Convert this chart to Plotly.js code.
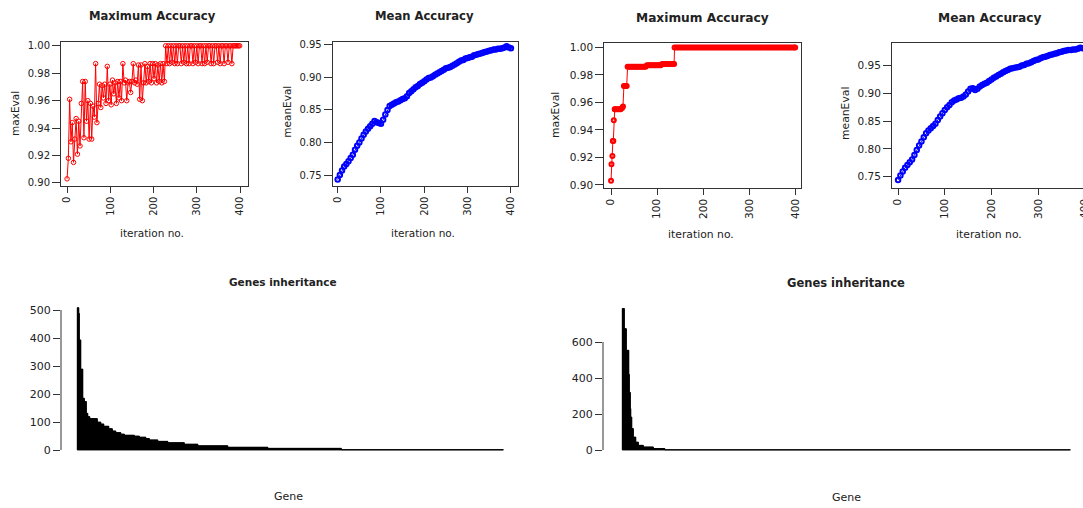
<!DOCTYPE html>
<html><head><meta charset="utf-8">
<script src="https://cdn.plot.ly/plotly-3.0.1.min.js"></script>
<style>html,body{margin:0;padding:0;overflow:hidden;background:#fff}#chart{width:1100px;height:508px}</style>
</head><body><div id="chart"></div><script>
// ---------- data ----------
const iterA = [0,3,6,9,12,15,18,21,24,27,30,33,36,39,42,45,48,51,54,57,60,63,66,69,72,75,78,81,84,87,90,93,96,99,102,105,108,111,114,117,120,123,126,129,132,135,138,141,144,147,150,153,156,159,162,165,168,171,174,177,180,183,186,189,192,195,198,201,204,207,210,213,216,219,222,225,228,231,234,237,240,243,246,249,252,255,258,261,264,267,270,273,276,279,282,285,288,291,294,297,300,303,306,309,312,315,318,321,324,327,330,333,336,339,342,345,348,351,354,357,360,363,366,369,372,375,378,381,384,387,390,393,396,399];
const maxEvalA = [0.903,0.918,0.961,0.930,0.944,0.915,0.932,0.947,0.921,0.945,0.927,0.958,0.974,0.933,0.974,0.945,0.960,0.932,0.958,0.932,0.956,0.948,0.987,0.944,0.958,0.972,0.955,0.971,0.962,0.972,0.958,0.985,0.960,0.972,0.957,0.975,0.965,0.973,0.958,0.974,0.962,0.974,0.960,0.987,0.973,0.975,0.960,0.973,0.974,0.966,0.974,0.987,0.973,0.975,0.972,0.986,0.961,0.986,0.960,0.973,0.987,0.973,0.985,0.974,0.987,0.973,0.987,0.976,0.987,0.973,0.986,0.974,0.987,0.973,0.987,0.974,
1.000,0.987,1.000,0.987,1.000,0.988,1.000,0.987,1.000,0.987,1.000,1.000,0.987,1.000,0.988,1.000,0.987,1.000,0.987,1.000,1.000,0.987,1.000,0.988,1.000,0.987,1.000,1.000,0.987,1.000,0.987,1.000,0.988,1.000,1.000,0.987,1.000,0.987,1.000,1.000,0.988,1.000,0.987,1.000,1.000,0.987,1.000,1.000,0.988,1.000,1.000,0.987,1.000,1.000,1.000,1.000,1.000,1.000];

const iterB = [0,5,10,15,20,25,30,35,40,45,50,55,60,65,70,75,80,85,90,95,100,105,110,115,120,125,130,135,140,145,150,155,160,165,170,175,180,185,190,195,200,205,210,215,220,225,230,235,240,245,250,255,260,265,270,275,280,285,290,295,300,305,310,315,320,325,330,335,340,345,350,355,360,365,370,375,380,385,390,395,400];
const meanEvalA = [0.743,0.750,0.757,0.763,0.767,0.771,0.776,0.781,0.789,0.795,0.800,0.806,0.812,0.817,0.821,0.825,0.829,0.833,0.831,0.830,0.829,0.835,0.843,0.850,0.856,0.858,0.860,0.862,0.863,0.865,0.867,0.868,0.871,0.876,0.879,0.882,0.885,0.887,0.890,0.892,0.894,0.897,0.899,0.900,0.902,0.904,0.906,0.908,0.910,0.912,0.914,0.915,0.916,0.918,0.920,0.922,0.924,0.926,0.927,0.929,0.930,0.931,0.932,0.934,0.935,0.936,0.937,0.938,0.939,0.940,0.941,0.942,0.943,0.943,0.944,0.944,0.945,0.946,0.948,0.946,0.945];

const iterC = [0,1,3,4,5,6,8,9,12,15,18,21,24,26,28,30,32,34,36,39,42,45,48,51,54,57,60,63,66,69,72,75,78,81,84,87,90,93,96,99,102,105,108,111,114,117,120,123,126,129,132,135,137,138,142,146,150,154,158,162,166,170,174,178,182,186,190,194,198,202,206,210,214,218,222,226,230,234,238,242,246,250,254,258,262,266,270,274,278,282,286,290,294,298,302,306,310,314,318,322,326,330,334,338,342,346,350,354,358,362,366,370,374,378,382,386,390,394,398,400];
const maxEvalB = [0.903,0.915,0.921,0.932,0.932,0.947,0.955,0.955,0.955,0.955,0.955,0.955,0.956,0.957,0.972,0.972,0.972,0.972,
0.986,0.986,0.986,0.986,0.986,0.986,0.986,0.986,0.986,0.986,0.986,0.986,0.986,0.986,
0.987,0.987,0.987,0.987,0.987,0.987,0.987,0.987,0.987,0.987,0.987,
0.988,0.988,0.988,0.988,0.988,0.988,0.988,0.988,0.988,0.988,
1.000,1.000,1.000,1.000,1.000,1.000,1.000,1.000,1.000,1.000,1.000,1.000,1.000,1.000,1.000,1.000,1.000,1.000,1.000,1.000,1.000,1.000,1.000,1.000,1.000,1.000,1.000,1.000,1.000,1.000,1.000,1.000,1.000,1.000,1.000,1.000,1.000,1.000,1.000,1.000,1.000,1.000,1.000,1.000,1.000,1.000,1.000,1.000,1.000,1.000,1.000,1.000,1.000,1.000,1.000,1.000,1.000,1.000,1.000,1.000,1.000,1.000,1.000,1.000,1.000,1.000,1.000];
const meanEvalB = [0.744,0.752,0.759,0.766,0.771,0.776,0.781,0.789,0.798,0.806,0.813,0.821,0.828,0.833,0.837,0.841,0.845,0.852,0.858,0.864,0.870,0.875,0.879,0.884,0.887,0.889,0.891,0.892,0.894,0.898,0.903,0.908,0.909,0.906,0.908,0.912,0.915,0.917,0.919,0.922,0.925,0.928,0.930,0.933,0.935,0.938,0.940,0.942,0.944,0.945,0.946,0.947,0.948,0.950,0.951,0.953,0.954,0.956,0.958,0.960,0.961,0.963,0.965,0.966,0.967,0.969,0.970,0.971,0.972,0.974,0.975,0.976,0.977,0.978,0.978,0.979,0.979,0.980,0.982,0.981,0.981];

// gene inheritance counts (sorted), as levels and number of genes at each level
const geneLevelsA = [508,488,393,289,185,173,131,119,112,100,93,85,76,68,62,57,53,50,46,41,36,31,26,21,15,10,6,1];
const geneRunsA   = [3,1,3,4,3,4,3,4,15,7,6,10,7,7,10,7,20,10,13,7,17,20,33,27,60,80,147,324];
const geneLevelsB = [786,674,554,420,320,230,183,119,72,44,26,17,8,1];
const geneRunsB   = [4,4,5,1,2,1,2,3,5,5,10,20,23,811];

const iterTicks = [0,100,200,300,400];
const maxTicks = [0.90,0.92,0.94,0.96,0.98,1.00];
const meanTicks = [0.75,0.80,0.85,0.90,0.95];
const geneTicksA = [0,100,200,300,400,500];
const geneTicksB = [0,200,400,600];

// ---------- layout helpers ----------
const W = 1100, H = 508;
const FONT = 'DejaVu Sans', INK = '#222', LINE = '#333';
const RED = '#ff0000', BLUE = '#0000ff';
const dx = (a, b) => [a / W, b / W];
const dy = (top, bottom) => [1 - bottom / H, 1 - top / H];
function expand(levels, runs) { const v = []; levels.forEach((l, i) => { for (let k = 0; k < runs[i]; k++) v.push(l); }); return v; }
const genesA = expand(geneLevelsA, geneRunsA);
const genesB = expand(geneLevelsB, geneRunsB);
const idxA = genesA.map((_, i) => i);
const idxB = genesB.map((_, i) => i);

function boxX(dom, range, anchor, fs) {
  return {domain: dom, range: range, anchor: anchor, tickmode: 'array', tickvals: iterTicks, ticktext: iterTicks.map(String),
    tickangle: -90, ticks: 'outside', ticklen: 6, tickwidth: 1, tickcolor: LINE, showline: true, mirror: true,
    linecolor: LINE, linewidth: 1, showgrid: false, zeroline: false, fixedrange: true,
    tickfont: {family: FONT, size: fs, color: INK}};
}
function boxY(dom, range, anchor, vals, fs) {
  return {domain: dom, range: range, anchor: anchor, tickmode: 'array', tickvals: vals, ticktext: vals.map(v => v.toFixed(2)),
    ticks: 'outside', ticklen: 8, tickwidth: 1, tickcolor: LINE, showline: true, mirror: true,
    linecolor: LINE, linewidth: 1, showgrid: false, zeroline: false, fixedrange: true,
    tickfont: {family: FONT, size: fs, color: INK}};
}
function barX(dom, range, anchor) {
  return {domain: dom, range: range, anchor: anchor, visible: false, fixedrange: true};
}
function barY(dom, range, anchor, vals, fs) {
  return {domain: dom, range: range, anchor: anchor, tickmode: 'array', tickvals: vals, ticktext: vals.map(String),
    ticks: 'outside', ticklen: 7, tickwidth: 1, tickcolor: LINE, showline: false, showgrid: false, zeroline: false,
    fixedrange: true, tickfont: {family: FONT, size: fs, color: INK}};
}

const traces = [
  {x: iterA, y: maxEvalA, xaxis: 'x', yaxis: 'y', type: 'scatter', mode: 'lines+markers',
   line: {color: RED, width: 1}, marker: {symbol: 'circle-open', size: 4.5, color: RED, line: {width: 1}}},
  {x: iterB, y: meanEvalA, xaxis: 'x2', yaxis: 'y2', type: 'scatter', mode: 'lines+markers',
   line: {color: BLUE, width: 1}, marker: {symbol: 'circle-open', size: 4.5, color: BLUE, line: {width: 2}}},
  {x: iterC, y: maxEvalB, xaxis: 'x3', yaxis: 'y3', type: 'scatter', mode: 'lines+markers',
   line: {color: RED, width: 1}, marker: {symbol: 'circle-open', size: 4, color: RED, line: {width: 2}}},
  {x: iterB, y: meanEvalB, xaxis: 'x4', yaxis: 'y4', type: 'scatter', mode: 'lines+markers',
   line: {color: BLUE, width: 1}, marker: {symbol: 'circle-open', size: 4.5, color: BLUE, line: {width: 2}}},
  {x: idxA, y: genesA, xaxis: 'x5', yaxis: 'y5', type: 'bar', width: 1,
   marker: {color: '#000', line: {color: '#000', width: 1}}},
  {x: idxB, y: genesB, xaxis: 'x6', yaxis: 'y6', type: 'bar', width: 1,
   marker: {color: '#000', line: {color: '#000', width: 1}}}
];

function ann(text, x, y, size, bold, angle) {
  return {text: bold ? '<b>' + text + '</b>' : text, x: x / W, y: 1 - y / H, xref: 'paper', yref: 'paper',
    xanchor: 'center', yanchor: 'middle', showarrow: false, textangle: angle || 0,
    font: {family: FONT, size: size, color: INK}};
}

const layout = {
  width: W, height: H, autosize: false, margin: {l: 0, r: 0, t: 0, b: 0},
  paper_bgcolor: '#fff', plot_bgcolor: '#fff', showlegend: false, bargap: 0,
  xaxis:  boxX(dx(61, 248.3), [-14, 419], 'y', 10),
  yaxis:  boxY(dy(41.7, 185.7), [0.898, 1.003], 'x', maxTicks, 10),
  xaxis2: boxX(dx(332.7, 518.3), [-11.5, 417], 'y2', 10),
  yaxis2: boxY(dy(41.7, 185.7), [0.7336, 0.955], 'x2', meanTicks, 10),
  xaxis3: boxX(dx(604.3, 801), [-14.6, 412.6], 'y3', 10.5),
  yaxis3: boxY(dy(43.3, 187.7), [0.898, 1.003], 'x3', maxTicks, 10.5),
  xaxis4: boxX(dx(892, 1091), [-13, 413], 'y4', 10.5),
  yaxis4: boxY(dy(43.3, 187.7), [0.730, 0.990], 'x4', meanTicks, 10.5),
  xaxis5: barX(dx(61, 518), [-33.1, 880.9], 'y5'),
  yaxis5: barY(dy(301.6, 455.6), [-20, 530], 'x5', geneTicksA, 11),
  xaxis6: barX(dx(603, 1080), [-39.1, 914.9], 'y6'),
  yaxis6: barY(dy(302.4, 455.4), [-30, 820], 'x6', geneTicksB, 11),
  shapes: [
    {type: 'line', xref: 'paper', yref: 'y5', x0: 61 / W, x1: 61 / W, y0: 0, y1: 500, line: {color: LINE, width: 1}},
    {type: 'line', xref: 'paper', yref: 'y6', x0: 603 / W, x1: 603 / W, y0: 0, y1: 600, line: {color: LINE, width: 1}}
  ],
  annotations: [
    ann('Maximum Accuracy', 152.5, 16, 11.6, true),
    ann('Mean Accuracy', 424, 16, 11.6, true),
    ann('Maximum Accuracy', 702, 18, 12.2, true),
    ann('Mean Accuracy', 989.5, 18, 12.2, true),
    ann('iteration no.', 152, 232.5, 10.5),
    ann('iteration no.', 422.5, 232.5, 10.5),
    ann('iteration no.', 701, 234, 10.8),
    ann('iteration no.', 988.5, 234, 10.8),
    ann('maxEval', 15, 114, 10.5, false, -90),
    ann('meanEval', 286.7, 112, 10.5, false, -90),
    ann('maxEval', 555, 115, 10.8, false, -90),
    ann('meanEval', 845, 114, 10.8, false, -90),
    ann('Genes inheritance', 283, 281.5, 10.5, true),
    ann('Genes inheritance', 845.5, 282.5, 11.5, true),
    ann('Gene', 288, 496.5, 11),
    ann('Gene', 846.7, 497, 11)
  ]
};

Plotly.newPlot('chart', traces, layout, {displayModeBar: false, staticPlot: true});
</script></body></html>
